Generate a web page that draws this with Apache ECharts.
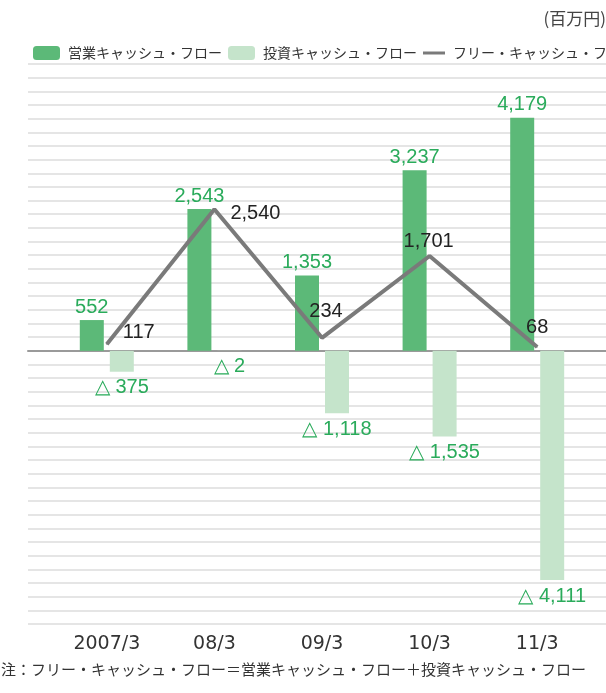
<!DOCTYPE html>
<html>
<head>
<meta charset="utf-8">
<script src="https://cdn.jsdelivr.net/npm/echarts@6/dist/echarts.min.js"></script>
<style>
  html, body { margin: 0; padding: 0; background: #fff; }
  #chart { width: 606px; height: 693px; }
</style>
</head>
<body>
<div id="chart"></div>
<script>
// data (百万円)
const categories = ["2007/3", "08/3", "09/3", "10/3", "11/3"];
const operatingCF = [552, 2543, 1353, 3237, 4179];
const investingCF = [-375, -2, -1118, -1535, -4111];
const freeCF = [117, 2540, 234, 1701, 68];

// label nudges for the free cash flow line
const freeLabelOffsets = [[32, -12], [41, 4], [4, -26], [-1, -15], [0, -20]];

const GREEN = "#5cb978";
const LIGHT_GREEN = "#c5e4cb";
const TEXT_GREEN = "#2aab5b";
const LINE_GRAY = "#7a7a7a";
const NUM_FONT = "'Liberation Sans', Arial, sans-serif";
const JP_FONT = "'Noto Sans CJK JP', sans-serif";

const yMin = -4900, yMax = 5145, yStep = 245;

const fmt = (v) => Math.abs(v).toLocaleString("en-US");

const chart = echarts.init(document.getElementById("chart"));

const legendBase = {
  top: 41,
  itemHeight: 14,
  itemWidth: 27,
  textStyle: { fontFamily: JP_FONT, fontSize: 14, color: "#333", padding: [0, 0, 0, 3] },
  selectedMode: false,
};

const option = {
  backgroundColor: "#fff",
  animation: false,
  title: {
    text: "(百万円)",
    right: 0,
    top: 10,
    textStyle: { fontFamily: JP_FONT, fontSize: 17, fontWeight: "normal", color: "#444" },
    padding: 0,
  },
  legend: [
    { ...legendBase, left: 28, data: ["営業キャッシュ・フロー"] },
    { ...legendBase, left: 223, data: ["投資キャッシュ・フロー"] },
    {
      ...legendBase,
      left: 418,
      itemWidth: 22,
      itemHeight: 3,
      width: 400,
      data: [{ name: "フリー・キャッシュ・フロー", icon: "rect", itemStyle: { color: LINE_GRAY } }],
    },
  ],
  graphic: [
    {
      type: "text",
      left: 1,
      top: 662,
      style: {
        text: "注：フリー・キャッシュ・フロー＝営業キャッシュ・フロー＋投資キャッシュ・フロー",
        font: "15px " + JP_FONT,
        fill: "#333",
      },
    },
  ],
  grid: [
    { left: 28, right: 0, top: 64, bottom: 69 },
    { left: 53, right: 15, top: 64, bottom: 69 },
  ],
  xAxis: [
    {
      gridIndex: 0,
      type: "category",
      data: categories,
      axisLine: { onZero: true, lineStyle: { color: "#9a9a9a", width: 2 } },
      axisTick: { show: false },
      axisLabel: { show: false },
    },
    {
      gridIndex: 1,
      type: "category",
      data: categories,
      axisLine: { show: false, onZero: false },
      axisTick: { show: false },
      axisLabel: {
        margin: 11,
        fontFamily: "'DejaVu Sans', sans-serif",
        fontSize: 19,
        color: "#333",
      },
    },
  ],
  yAxis: [
    {
      gridIndex: 0,
      type: "value",
      min: yMin,
      max: yMax,
      interval: yStep,
      axisLine: { show: false },
      axisTick: { show: false },
      axisLabel: { show: false },
      splitLine: { lineStyle: { color: "#dcdcdc", width: 1.5 } },
    },
    {
      gridIndex: 1,
      type: "value",
      min: yMin,
      max: yMax,
      interval: yStep,
      show: false,
      splitLine: { show: false },
    },
  ],
  series: [
    {
      name: "営業キャッシュ・フロー",
      type: "bar",
      xAxisIndex: 1,
      yAxisIndex: 1,
      data: operatingCF,
      barWidth: 24,
      barGap: "25%",
      itemStyle: { color: GREEN },
      label: {
        show: true,
        position: "top",
        distance: 3,
        formatter: (p) => fmt(p.value),
        fontFamily: NUM_FONT,
        fontSize: 20,
        color: TEXT_GREEN,
      },
    },
    {
      name: "投資キャッシュ・フロー",
      type: "bar",
      xAxisIndex: 1,
      yAxisIndex: 1,
      data: investingCF,
      barWidth: 24,
      barGap: "25%",
      itemStyle: { color: LIGHT_GREEN },
      label: {
        show: true,
        position: "bottom",
        distance: 6,
        formatter: (p) => "△ " + fmt(p.value),
        fontFamily: NUM_FONT,
        fontSize: 20,
        color: TEXT_GREEN,
      },
    },
    {
      name: "フリー・キャッシュ・フロー",
      type: "line",
      xAxisIndex: 1,
      yAxisIndex: 1,
      symbol: "circle",
      symbolSize: 1,
      data: freeCF.map((v, i) => ({ value: v, label: { offset: freeLabelOffsets[i] } })),
      lineStyle: { color: LINE_GRAY, width: 4 },
      itemStyle: { color: LINE_GRAY },
      label: {
        show: true,
        position: "inside",
        formatter: (p) => fmt(p.value),
        fontFamily: NUM_FONT,
        fontSize: 20,
        color: "#222",
      },
      z: 3,
    },
  ],
};

chart.setOption(option);
</script>
</body>
</html>
